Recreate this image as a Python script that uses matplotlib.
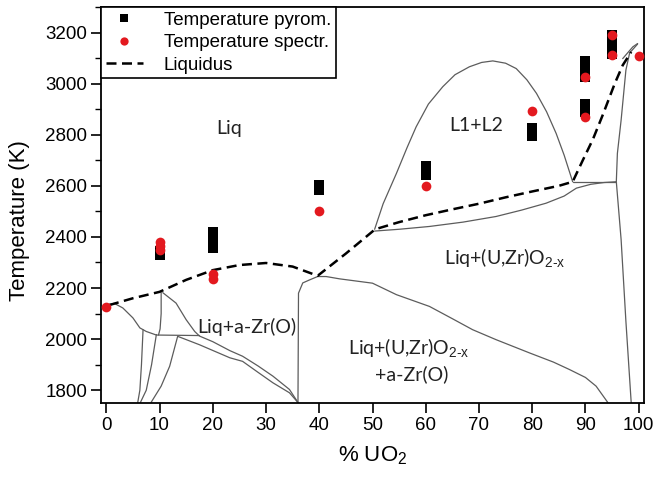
import numpy as np
import matplotlib
matplotlib.use("Agg")
import matplotlib.pyplot as plt
from matplotlib.ticker import MultipleLocator

plt.rcParams['font.family'] = ['Liberation Sans', 'DejaVu Sans']
plt.rcParams['mathtext.fontset'] = 'custom'
plt.rcParams['mathtext.rm'] = 'Liberation Sans'
plt.rcParams['mathtext.it'] = 'Liberation Sans'

# measured points (% UO2, K)
pyrom_x = [10, 10, 20, 20, 20, 20, 40, 40, 60, 60, 60, 80, 80, 80,
           90, 90, 90, 90, 90, 90, 90, 95, 95, 95, 95, 95]
pyrom_T = [2345, 2330, 2420, 2400, 2375, 2355, 2605, 2583, 2677, 2660, 2641,
           2827, 2810, 2794, 3087, 3065, 3045, 3027, 2921, 2905, 2888,
           3190, 3170, 3150, 3130, 3117]

spectr_x = [0, 10, 10, 10, 20, 20, 40, 60, 80, 90, 90, 95, 95, 100]
spectr_T = [2125, 2380, 2365, 2350, 2255, 2237, 2500, 2600, 2893, 3027, 2870,
            3189, 3114, 3108]

# liquidus (dashed)
liq_x = [0.5, 5, 10, 15, 20, 25, 30, 35, 39.7, 45, 50.5, 55, 60, 65, 70, 75,
         80, 85, 87.6, 89.5, 91.4, 93.3, 95.5, 97, 98.6]
liq_T = [2133, 2160, 2185, 2232, 2270, 2290, 2298, 2284, 2248, 2335, 2430,
         2458, 2485, 2508, 2530, 2555, 2578, 2600, 2616, 2700, 2782, 2880,
         3000, 3072, 3124]

# phase diagram boundaries (grey lines)
dome_x = [50.4, 52, 54.5, 56.5, 58.2, 60.5, 63.2, 65.5, 68.2, 70.5, 72.6, 75,
          77, 79, 80.8, 82.7, 84.5, 86, 87.6]
dome_T = [2430, 2530, 2649, 2750, 2831, 2920, 2988, 3035, 3066, 3083, 3089,
          3080, 3059, 3015, 2962, 2890, 2805, 2720, 2616]

low_x = [50.4, 55, 60.7, 67, 73.2, 78, 82.6, 86, 88.3, 91, 93.5, 95.8]
low_T = [2423, 2430, 2441, 2458, 2480, 2505, 2532, 2560, 2591, 2606, 2613, 2616]

flat_x = [87.6, 95.8]
flat_T = [2616, 2616]

sol_x = [95.8, 96.0, 96.7, 97.6, 98.3, 99.8]
sol_T = [2616, 2727, 2857, 3053, 3120, 3155]

top_x = [97.0, 98.9, 99.8]
top_T = [3098, 3144, 3157]

right_x = [95.8, 96.7, 97.6, 98.6]
right_T = [2616, 2390, 2070, 1750]

mid_x = [36.0, 36.1, 36.9, 38.2, 39.7, 41.3, 43.8, 50, 54.5, 60.7, 65, 68.8,
         73.2, 79.5, 84, 87, 90, 92, 94.2]
mid_T = [1752, 2180, 2220, 2232, 2245, 2245, 2236, 2219, 2174, 2128, 2080,
         2037, 1998, 1946, 1910, 1881, 1850, 1816, 1752]

a_x = [0.3, 1.5, 3.1, 5, 6.3, 7.5, 9.4, 17.5]
a_T = [2135, 2140, 2122, 2083, 2044, 2030, 2016, 2014]

b_x = [10.3, 10.3, 10.1, 9.8]
b_T = [2182, 2100, 2040, 2016]

c_x = [10.6, 13.1, 15, 16.6, 17.5, 20, 23.2, 25.6, 28.5, 31.3, 34.4, 36]
c_T = [2182, 2141, 2076, 2030, 2012, 1990, 1955, 1933, 1895, 1855, 1803, 1752]

d_x = [13.4, 17.5, 23.2, 25.6, 28.5, 31.3, 34.4, 36]
d_T = [2011, 1978, 1927, 1913, 1870, 1829, 1790, 1752]

e_x = [6.9, 6.6, 6.3, 5.9]
e_T = [2037, 1900, 1800, 1752]

f_x = [9.4, 8.5, 7.5, 6.4]
f_T = [2018, 1900, 1800, 1752]

g_x = [13.4, 11.9, 10.3, 8.4]
g_T = [2011, 1894, 1816, 1752]

boundaries = [(dome_x, dome_T), (low_x, low_T), (flat_x, flat_T),
              (sol_x, sol_T), (top_x, top_T), (right_x, right_T),
              (mid_x, mid_T), (a_x, a_T), (b_x, b_T), (c_x, c_T),
              (d_x, d_T), (e_x, e_T), (f_x, f_T), (g_x, g_T)]

red = '#e3191f'
grey = '#5c5c5c'

fig = plt.figure(figsize=(6.55, 4.82), dpi=100)
ax = fig.add_axes([101 / 655, 1 - 403 / 482, 543 / 655, 396 / 482])

for bx, bT in boundaries:
    ax.plot(bx, bT, color=grey, lw=0.9, solid_capstyle='round', zorder=1)

ax.plot(liq_x, liq_T, color='black', lw=1.8, linestyle=(0, (4, 2.2)),
        label='Liquidus', zorder=2)
ax.plot(pyrom_x, pyrom_T, 's', color='black', markersize=6.8,
        markeredgewidth=0, label='Temperature pyrom.', zorder=3)
ax.plot(spectr_x, spectr_T, 'o', color=red, markersize=7,
        markeredgewidth=0, label='Temperature spectr.', zorder=4)

# region labels
txt = dict(family=['Lato', 'DejaVu Sans'], fontsize=14, color='#222222',
           ha='center', va='center', zorder=5)
ax.text(23, 2825, 'Liq', **txt)
ax.text(69.5, 2838, 'L1+L2', **txt)
ax.text(74.8, 2318, r'Liq+(U,Zr)O$_{\mathrm{2\text{-}x}}$', **txt)
ax.text(56.8, 1966, r'Liq+(U,Zr)O$_{\mathrm{2\text{-}x}}$', **txt)
ax.text(57.3, 1861, '+a-Zr(O)', **txt)
ax.text(26.3, 2048, 'Liq+a-Zr(O)', **txt)

ax.set_xlim(-1, 101)
ax.set_ylim(1750, 3300)
ax.xaxis.set_major_locator(MultipleLocator(10))
ax.yaxis.set_major_locator(MultipleLocator(200))
ax.yaxis.set_minor_locator(MultipleLocator(100))
ax.tick_params(which='major', direction='out', length=7, width=1.2,
               labelsize=13.5, pad=3)
ax.tick_params(which='minor', direction='out', length=4, width=1)
for s in ax.spines.values():
    s.set_linewidth(1.3)

ax.set_xlabel(r'% UO$_2$', fontsize=16)
ax.set_ylabel('Temperature (K)', fontsize=16)
ax.xaxis.set_label_coords(0.5, -0.105)
ax.yaxis.set_label_coords(-0.13, 0.46)

handles, labels = ax.get_legend_handles_labels()
order = [1, 2, 0]
leg = ax.legend([handles[i] for i in order], [labels[i] for i in order],
                loc='upper left', bbox_to_anchor=(0, 1), borderaxespad=0,
                fancybox=False, edgecolor='black', framealpha=1,
                fontsize=13.5, handlelength=2.0, handletextpad=1.1,
                labelspacing=0.28, borderpad=0.25, markerscale=0.85)
leg.get_frame().set_linewidth(1.2)

fig.savefig('out.png', dpi=100)
